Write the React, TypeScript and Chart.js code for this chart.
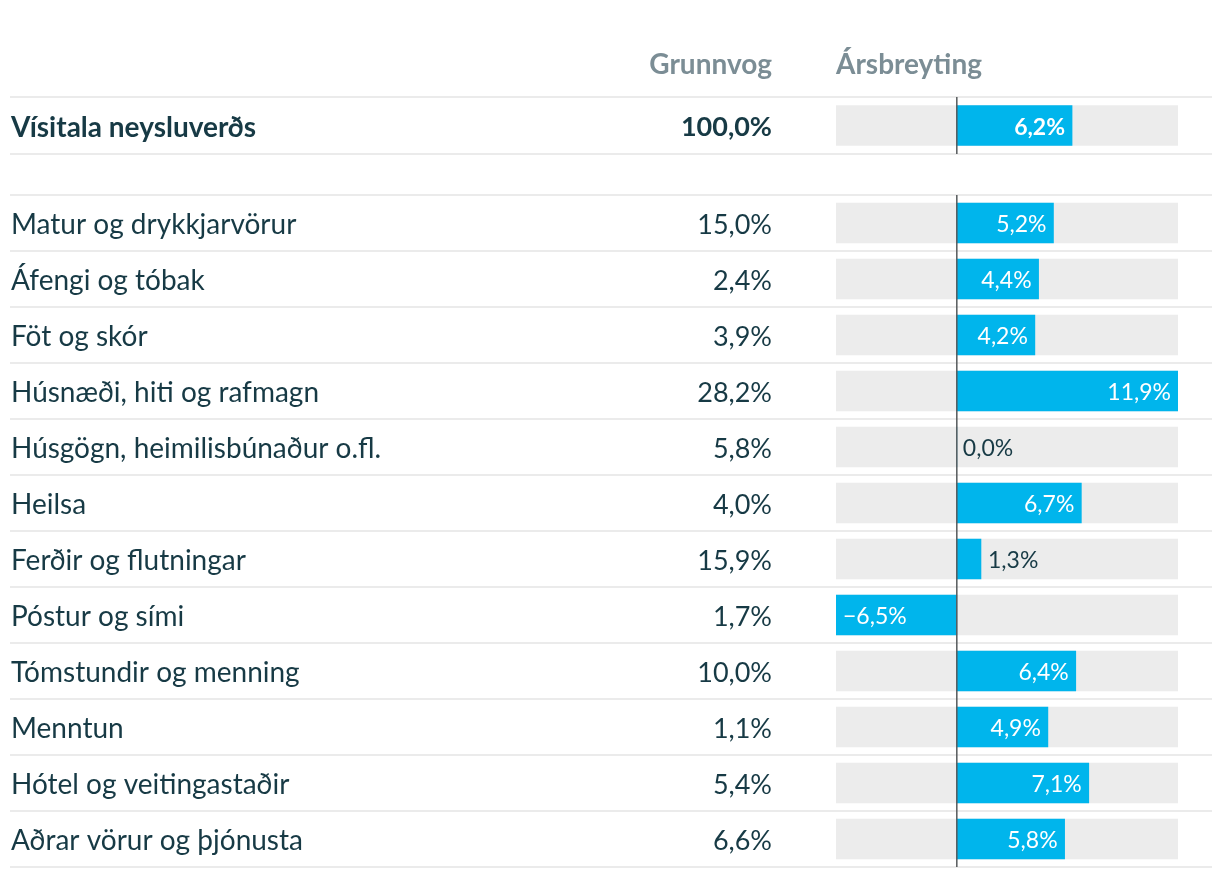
import React, { useEffect, useRef } from "react";
import { Chart, registerables } from "chart.js";

Chart.register(...registerables);

// ---- data ----
const headerWeight = "Grunnvog";
const headerChange = "Ársbreyting";

const totalLabels = ["Vísitala neysluverðs"];
const totalWeights = [100.0];
const totalChanges = [6.2];

const categories = [
  "Matur og drykkjarvörur",
  "Áfengi og tóbak",
  "Föt og skór",
  "Húsnæði, hiti og rafmagn",
  "Húsgögn, heimilisbúnaður o.fl.",
  "Heilsa",
  "Ferðir og flutningar",
  "Póstur og sími",
  "Tómstundir og menning",
  "Menntun",
  "Hótel og veitingastaðir",
  "Aðrar vörur og þjónusta",
];
const weights = [15.0, 2.4, 3.9, 28.2, 5.8, 4.0, 15.9, 1.7, 10.0, 1.1, 5.4, 6.6];
const changes = [5.2, 4.4, 4.2, 11.9, 0.0, 6.7, 1.3, -6.5, 6.4, 4.9, 7.1, 5.8];

// ---- styling ----
const FONT = "Lato, 'Noto Sans', sans-serif";
const TEXT = "#173a45";
const HEADER = "#7b8d95";
const BLUE = "#00b5ec";
const GREY = "#ececec";
const SEP = "#ebebeb";
const ZERO = "#55595b";

const xMin = Math.min(...changes, ...totalChanges);
const xMax = Math.max(...changes, ...totalChanges);

const fmt = (v: number) =>
  (v < 0 ? "\u2212" : "") + Math.abs(v).toFixed(1).replace(".", ",") + "%";

type Opts = {
  bold: boolean;
  header: boolean;
  top: number;
  bottom: number;
  height: number;
};

function makeChart(
  canvas: HTMLCanvasElement,
  labels: string[],
  wts: number[],
  vals: number[],
  o: Opts
) {
  const tablePlugin = {
    id: "tableText",
    beforeDatasetsDraw(chart: any) {
      const ctx = chart.ctx;
      const a = chart.chartArea;
      const n = labels.length;
      const step = (a.bottom - a.top) / n;
      ctx.save();
      ctx.fillStyle = SEP;
      for (let i = 0; i <= n; i++) {
        const y = Math.round(a.top + i * step);
        ctx.fillRect(10, y - 1, 1202, 2);
      }
      ctx.restore();
    },
    afterDatasetsDraw(chart: any) {
      const ctx = chart.ctx;
      const a = chart.chartArea;
      const xs = chart.scales.x;
      const ys = chart.scales.y;
      const x0 = xs.getPixelForValue(0);
      ctx.save();
      // zero line
      ctx.strokeStyle = ZERO;
      ctx.lineWidth = 1.5;
      ctx.beginPath();
      ctx.moveTo(x0, a.top);
      ctx.lineTo(x0, a.bottom);
      ctx.stroke();

      const w = o.bold ? "bold " : "";
      // row texts
      ctx.textBaseline = "middle";
      labels.forEach((lab, i) => {
        const y = ys.getPixelForValue(i) + 2;
        ctx.fillStyle = TEXT;
        ctx.font = `${w}28px ${FONT}`;
        ctx.textAlign = "left";
        ctx.fillText(lab, 11, y);
        ctx.font = `${w}27px ${FONT}`;
        ctx.textAlign = "right";
        ctx.fillText(fmt(wts[i]), 772, y);
      });

      // value labels
      const meta = chart.getDatasetMeta(0);
      ctx.font = `${w}23px ${FONT}`;
      meta.data.forEach((bar: any, i: number) => {
        const v = vals[i];
        const txt = fmt(v);
        const tw = ctx.measureText(txt).width;
        const bw = Math.abs(bar.x - bar.base);
        const y = bar.y + 2;
        const pad = 7;
        if (v >= 0) {
          if (tw + pad * 2 <= bw) {
            ctx.fillStyle = "#ffffff";
            ctx.textAlign = "right";
            ctx.fillText(txt, bar.x - pad, y);
          } else {
            ctx.fillStyle = TEXT;
            ctx.textAlign = "left";
            ctx.fillText(txt, bar.x + (v === 0 ? 6 : pad), y);
          }
        } else {
          if (tw + pad * 2 <= bw) {
            ctx.fillStyle = "#ffffff";
            ctx.textAlign = "left";
            ctx.fillText(txt, bar.x + pad, y);
          } else {
            ctx.fillStyle = TEXT;
            ctx.textAlign = "right";
            ctx.fillText(txt, bar.x - pad, y);
          }
        }
      });

      if (o.header) {
        ctx.font = `bold 28px ${FONT}`;
        ctx.fillStyle = HEADER;
        ctx.textBaseline = "alphabetic";
        ctx.textAlign = "right";
        ctx.fillText(headerWeight, 772, 74);
        ctx.textAlign = "left";
        ctx.fillText(headerChange, xs.left, 74);
      }
      ctx.restore();
    },
  };

  return new Chart(canvas, {
    type: "bar",
    data: {
      labels,
      datasets: [
        {
          data: vals,
          backgroundColor: BLUE,
          barThickness: 40,
          grouped: false,
          borderWidth: 0,
          order: 0,
        } as any,
        {
          data: labels.map(() => [xMin, xMax]),
          backgroundColor: GREY,
          barThickness: 40,
          grouped: false,
          borderWidth: 0,
          order: 1,
        } as any,
      ],
    },
    options: {
      indexAxis: "y",
      responsive: false,
      animation: false,
      events: [],
      layout: {
        padding: { left: 836, right: 1220 - 1178, top: o.top, bottom: o.height - o.bottom },
      },
      scales: {
        x: { type: "linear", min: xMin, max: xMax, display: false },
        y: { type: "category", display: false, offset: true },
      },
      plugins: {
        legend: { display: false },
        tooltip: { enabled: false },
      },
    } as any,
    plugins: [tablePlugin],
  });
}

export default function App() {
  const topRef = useRef<HTMLCanvasElement>(null);
  const mainRef = useRef<HTMLCanvasElement>(null);

  useEffect(() => {
    const c1 = makeChart(topRef.current!, totalLabels, totalWeights, totalChanges, {
      bold: true,
      header: true,
      top: 97,
      bottom: 154,
      height: 160,
    });
    const c2 = makeChart(mainRef.current!, categories, weights, changes, {
      bold: false,
      header: false,
      top: 195,
      bottom: 867,
      height: 878,
    });
    return () => {
      c1.destroy();
      c2.destroy();
    };
  }, []);

  return (
    <div
      style={{
        position: "fixed",
        left: 0,
        top: 0,
        width: 1220,
        height: 878,
        background: "#ffffff",
      }}
    >
      <canvas
        ref={mainRef}
        width={1220}
        height={878}
        style={{ position: "absolute", left: 0, top: 0, width: 1220, height: 878 }}
      />
      <canvas
        ref={topRef}
        width={1220}
        height={160}
        style={{ position: "absolute", left: 0, top: 0, width: 1220, height: 160 }}
      />
    </div>
  );
}
